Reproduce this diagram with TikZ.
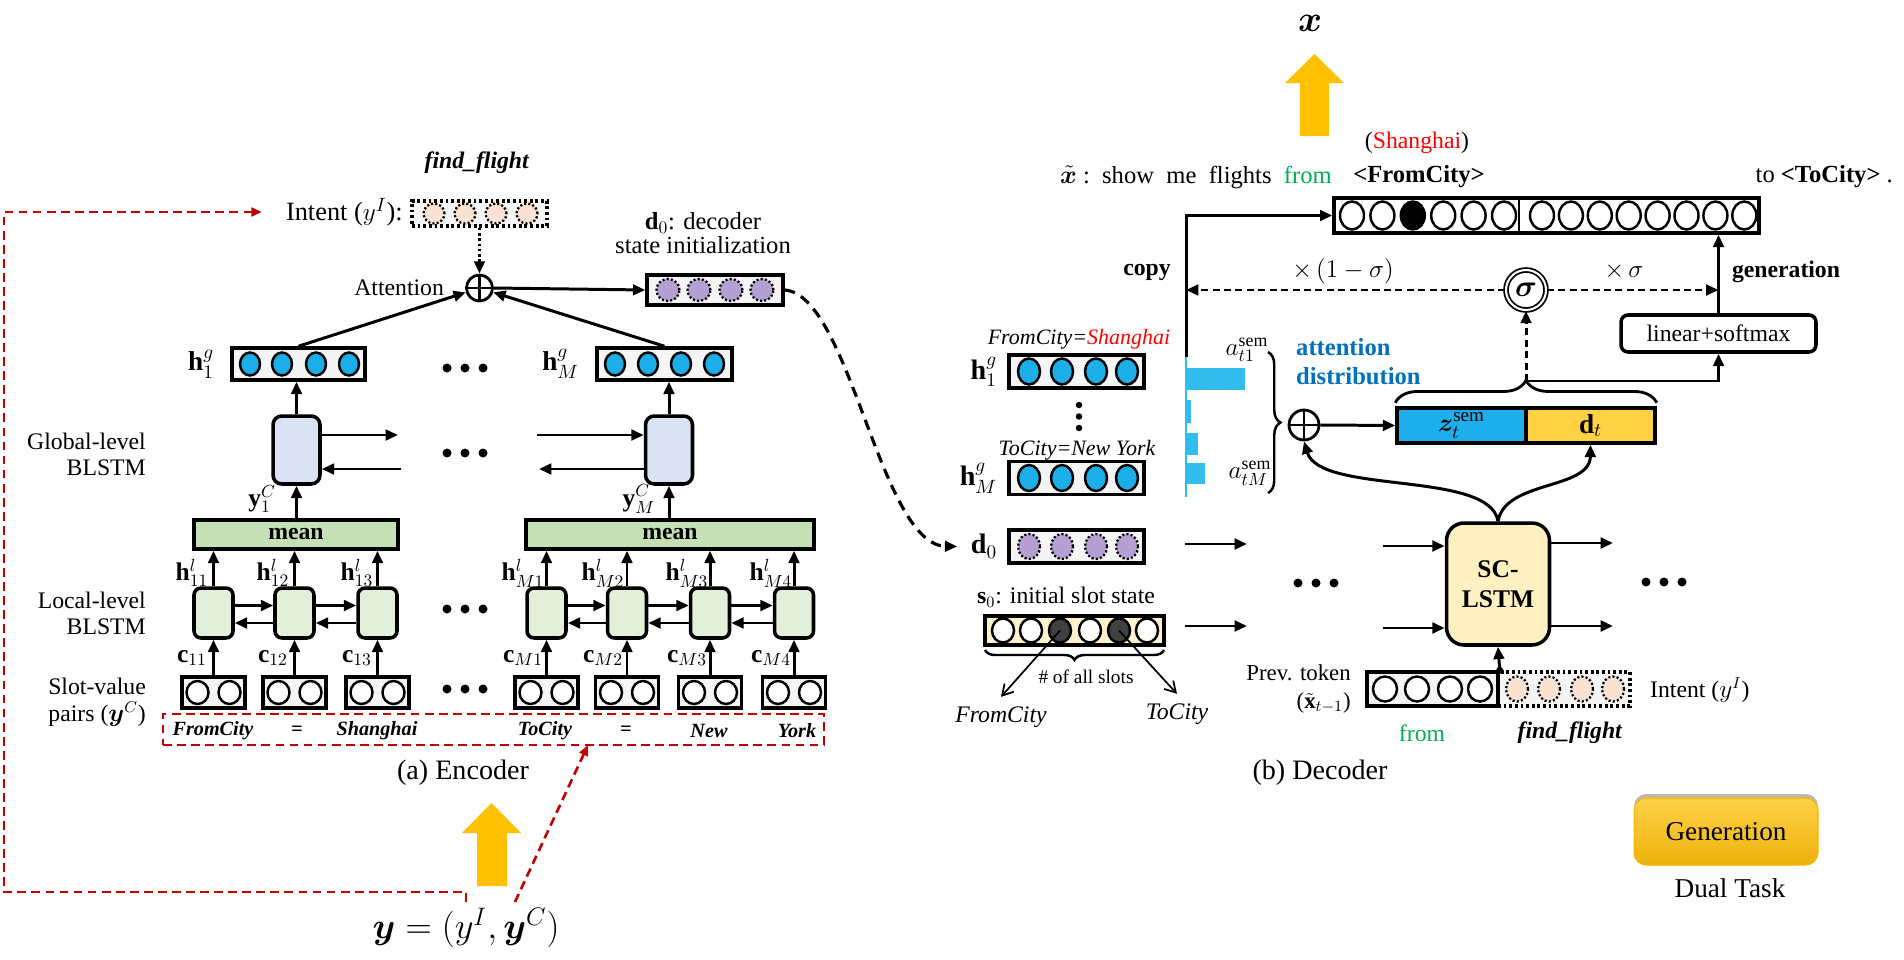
\documentclass[tikz,border=0pt]{standalone}
\usepackage{fontspec}
\setmainfont{Liberation Serif}
\usepackage{amsmath}
\usepackage{bm}
\usetikzlibrary{arrows.meta,decorations.pathreplacing,positioning}

\definecolor{encred}{HTML}{C00000}
\definecolor{gold}{HTML}{FFC000}
\definecolor{ballblue}{HTML}{1BAEE8}
\definecolor{purp}{HTML}{B4A0D2}
\definecolor{peach}{HTML}{FBE3D3}
\definecolor{meangreen}{HTML}{C5E0B4}
\definecolor{cellgreen}{HTML}{E2F0D9}
\definecolor{cellblue}{HTML}{DAE3F3}
\definecolor{slotyellow}{HTML}{FFF2CC}
\definecolor{lstmyellow}{HTML}{FFF0C1}
\definecolor{attblue}{HTML}{0070C0}
\definecolor{barblue}{HTML}{33BDEF}
\definecolor{zblue}{HTML}{1EAEEB}
\definecolor{dgold}{HTML}{FFD243}
\definecolor{fromgreen}{HTML}{00B050}
\definecolor{genhi}{HTML}{FFD149}
\definecolor{genlo}{HTML}{EDB20C}

\begin{document}
\begin{tikzpicture}[x=0.02cm, y=-0.02cm, font=\fontsize{13.5}{15}\selectfont,
    arr/.style={-{Triangle[length=7pt,width=6pt]}, line width=1.7pt},
    dasharr/.style={arr, dash pattern=on 4pt off 2.5pt},
    reddash/.style={encred, line width=1.5pt, dash pattern=on 5pt off 3pt},
    vecbox/.style={draw, line width=2pt, fill=gray!8, inner sep=0pt},
    dotbox/.style={draw, line width=2pt, dash pattern=on 1.6pt off 1.6pt, fill=gray!8, inner sep=0pt},
    gcell/.style={draw, line width=2pt, rounded corners=5pt, fill=cellblue, minimum width=0.94cm, minimum height=1.36cm},
    lcell/.style={draw, line width=2pt, rounded corners=4pt, fill=cellgreen, minimum width=0.78cm, minimum height=1cm},
    meanbox/.style={draw, line width=2pt, fill=meangreen, minimum height=0.58cm, font=\fontsize{13.5}{15}\selectfont\bfseries},
    slotbox/.style={vecbox, minimum width=1.26cm, minimum height=0.62cm},
    oplus/.style={draw, circle, line width=1.6pt, inner sep=0pt, fill=white},
    bigmath/.style={font=\fontsize{15.5}{17}\selectfont},
    ball/.style={draw, line width=1.4pt, fill=ballblue},
    hollow/.style={draw, line width=1.4pt, fill=white},
    peachball/.style={draw, line width=1.3pt, dash pattern=on 1.2pt off 1.2pt, fill=peach},
    purpball/.style={draw, line width=1.3pt, dash pattern=on 1.2pt off 1.2pt, fill=purp},
    slotword/.style={font=\fontsize{11.5}{13}\selectfont\bfseries\itshape}]
\useasboundingbox (0,0) rectangle (1904,960);

\node (ffenc) at (477,163) {\textbf{\textit{find\_flight}}};
\node[dotbox, minimum width=2.7cm, minimum height=0.5cm] (ienc) at (479.5,213.5) {};
\foreach \cx in {434,465,496,527} \draw[peachball] (\cx,213.5) ellipse [x radius=0.21cm, y radius=0.2cm];
\node[anchor=east, font=\fontsize{15}{17}\selectfont] (ilbl) at (409,212) {Intent ($y^I$):};
\node[oplus, minimum size=0.52cm] (eplus) at (479.5,288) {};
\draw[line width=1.6pt] (eplus.north) -- (eplus.south) (eplus.west) -- (eplus.east);
\node[left=0.3cm of eplus] (attlbl) {Attention};
\node[vecbox, minimum width=2.72cm, minimum height=0.6cm] (d0enc) at (715,290) {};
\foreach \cx in {668,699,731,762} \draw[purpball] (\cx,290) ellipse [x radius=0.23cm, y radius=0.22cm];
\node[align=center, font=\fontsize{14}{13.5}\selectfont] (d0lbl) at (703,233) {$\mathbf{d}_0$: decoder\\state initialization};
\draw[arr, dash pattern=on 1.5pt off 1.5pt] (ienc.south) -- (eplus.north);
\draw[arr] (eplus.east) -- (d0enc.west);

\node[vecbox, minimum width=2.66cm, minimum height=0.64cm] (hg1) at (298.5,364) {};
\foreach \cx in {250,282,316,349} \draw[ball] (\cx,364) ellipse [x radius=0.2cm, y radius=0.23cm];
\node[bigmath, left=0.2cm of hg1] (hg1lbl) {$\mathbf{h}_1^g$};
\node[vecbox, minimum width=2.7cm, minimum height=0.64cm] (hgM) at (664.5,364) {};
\foreach \cx in {615,648,681,714} \draw[ball] (\cx,364) ellipse [x radius=0.2cm, y radius=0.23cm];
\node[bigmath, left=0.2cm of hgM] (hgMlbl) {$\mathbf{h}_M^g$};
\draw[arr] (hg1.north) -- (eplus);
\draw[arr] (hgM.north) -- (eplus);

\node[gcell] (g1) at (296.5,450) {};
\node[gcell] (gM) at (669,450) {};
\draw[arr] (g1.north) -- (g1.north |- hg1.south);
\draw[arr] (gM.north) -- (gM.north |- hgM.south);
\coordinate (g1r) at (398,435);
\coordinate (g1l) at (401,469);
\coordinate (gMr) at (537,435);
\coordinate (gMl) at (539,469);
\draw[arr] (g1.east |- g1r) -- (g1r);
\draw[arr] (g1l) -- (g1.east |- g1l);
\draw[arr] (gMr) -- (gM.west |- gMr);
\draw[arr] (gM.west |- gMl) -- (gMl);
\node[align=right, anchor=east, font=\fontsize{13.5}{14.8}\selectfont] (glbl) at (152,454) {Global-level\\BLSTM};

\node[meanbox, minimum width=4.08cm] (mean1) at (296,534.5) {mean};
\node[meanbox, minimum width=5.76cm] (meanM) at (670,534.5) {mean};
\draw[arr] (mean1.north -| g1) -- (g1.south);
\draw[arr] (meanM.north -| gM) -- (gM.south);
\node[font=\fontsize{14.5}{16}\selectfont] (yc1) at (262,499) {$\mathbf{y}_1^C$};
\node[font=\fontsize{14.5}{16}\selectfont] (ycM) at (639,499) {$\mathbf{y}_M^C$};

\foreach \nm/\cx in {l1/213.5, l2/294.5, l3/377.5, m1/546.5, m2/627, m3/710, m4/794} {
  \node[lcell] (\nm) at (\cx,613) {};
  \node[slotbox] (s\nm) at (\cx,692.5) {};
  \draw[hollow] (\cx-16,692.5) ellipse [x radius=0.22cm, y radius=0.23cm];
  \draw[hollow] (\cx+16,692.5) ellipse [x radius=0.22cm, y radius=0.23cm];
  \draw[arr] (s\nm.north) -- (\nm.south);
}
\foreach \nm in {l1,l2,l3} \draw[arr] (\nm.north) -- (\nm.north |- mean1.south);
\foreach \nm in {m1,m2,m3,m4} \draw[arr] (\nm.north) -- (\nm.north |- meanM.south);
\foreach \a/\b in {l1/l2, l2/l3, m1/m2, m2/m3, m3/m4} {
  \draw[arr] ([yshift=0.15cm]\a.east) -- ([yshift=0.15cm]\b.west);
  \draw[arr] ([yshift=-0.2cm]\b.west) -- ([yshift=-0.2cm]\a.east);
}
\foreach \lb/\cx in {11/192, 12/273, 13/357, M1/523, M2/603, M3/687, M4/771} {
  \node[font=\fontsize{14.5}{16}\selectfont] (hl\lb) at (\cx,573) {$\mathbf{h}^l_{\lb}$};
  \node[font=\fontsize{14.5}{16}\selectfont] (c\lb) at (\cx,658) {$\mathbf{c}_{\lb}$};
}
\node[align=right, anchor=east, font=\fontsize{13.5}{14.8}\selectfont] (llbl) at (152,613) {Local-level\\BLSTM};
\node[align=right, anchor=east, font=\fontsize{13.5}{15.4}\selectfont] (svlbl) at (152,702) {Slot-value\\pairs ($\bm{y}^C$)};

\node[reddash, draw, minimum width=13.22cm, minimum height=0.62cm] (redbox) at (493.5,729.5) {};
\foreach \w/\cx [count=\i] in {FromCity/213, =/297, Shanghai/377, ToCity/545, =/626, New/709, York/797}
  \node[slotword] (sw\i) at (\cx,731) {\w};
\node[font=\fontsize{16}{18}\selectfont] (enccap) at (463,773) {(a) Encoder};

\fill[gold] (477,886) -- (477,833) -- (462,833) -- (491.5,803) -- (521,833) -- (507,833) -- (507,886) -- cycle;
\node[font=\fontsize{20}{22}\selectfont] (ylbl) at (466,928) {$\bm{y} = (y^I, \bm{y}^C)$};
\coordinate (rtip) at (588,745);
\draw[reddash, -{Triangle[length=6pt,width=5pt]}] (ylbl.north) |- (4,892) |- ([xshift=-0.36cm]ilbl.west);
\draw[reddash, -{Triangle[length=6pt,width=5pt]}] ([xshift=0.98cm]ylbl.north) -- (rtip);

\foreach \px/\py in {465/368, 465/453, 465/609, 465/689, 1316/583, 1664/582}
  \foreach \dx in {-18,0,18} \fill (\px+\dx,\py) circle (0.09cm);

\fill[gold] (1300,136) -- (1300,83) -- (1285,83) -- (1314.5,54) -- (1344,83) -- (1329,83) -- (1329,136) -- cycle;
\node[font=\fontsize{20}{22}\selectfont] (xtop) at (1310,23) {$\bm{x}$};
\node (shlbl) at (1417,143) {(\textcolor{red}{Shanghai})};
\node[anchor=west, font=\fontsize{14}{16}\selectfont] (xtil) at (1054,177) {$\tilde{\bm{x}}$\ :\ \ show\ \ me\ \ flights\ \ \textcolor{fromgreen}{from}};
\node[font=\fontsize{14}{16}\selectfont\bfseries] (fromcity) at (1419,177) {<FromCity>};
\node[anchor=east, font=\fontsize{14}{16}\selectfont] (tocity) at (1899,177) {to \textbf{<ToCity>} .};

\node[vecbox, fill=white, minimum width=8.5cm, minimum height=0.7cm] (tok) at (1546.5,215.5) {};
\draw[line width=1.5pt] (1519,198) -- (1519,233);
\foreach \i in {0,...,5} \draw[hollow] (1352+30.4*\i,215.5) ellipse [x radius=0.24cm, y radius=0.28cm];
\fill (1412.8,215.5) ellipse [x radius=0.24cm, y radius=0.28cm];
\foreach \i in {0,...,7} \draw[hollow] (1542+28.9*\i,215.5) ellipse [x radius=0.24cm, y radius=0.28cm];

\node[draw, line width=2pt, rounded corners=4pt, fill=white, minimum width=3.9cm, minimum height=0.74cm] (lin) at (1718.5,333.5) {linear+softmax};
\draw[arr] (lin.north) -- (lin.north |- tok.south);
\node[draw, circle, double, line width=1pt, double distance=1.2pt, minimum size=0.8cm, inner sep=0pt, fill=white, font=\fontsize{16}{18}\selectfont] (sig) at (1526,290) {$\bm{\sigma}$};
\coordinate (axtop) at (1186,357);
\draw[arr] (axtop) |- (tok.west);
\draw[dasharr] (sig.west) -- (sig.west -| axtop);
\draw[dasharr] (sig.east) -- (sig.east -| lin.north);
\node (copylbl) at (1147,272) {\textbf{copy}};
\node[font=\fontsize{15}{17}\selectfont] (omsig) at (1343,271) {$\times\,(1-\sigma)$};
\node[font=\fontsize{15}{17}\selectfont] (tsig) at (1624,271) {$\times\,\sigma$};
\node (genlbl) at (1786,272) {\textbf{generation}};

\node[font=\fontsize{12.5}{14}\selectfont\itshape] (fcs) at (1079,339) {FromCity=\textcolor{red}{Shanghai}};
\node[vecbox, minimum width=2.7cm, minimum height=0.66cm] (dhg1) at (1076.5,371.5) {};
\foreach \cx in {1029,1062,1096,1127} \draw[ball] (\cx,371.5) ellipse [x radius=0.22cm, y radius=0.26cm];
\node[font=\fontsize{16}{18}\selectfont, left=0.08cm of dhg1] (dhg1lbl) {$\mathbf{h}_1^g$};
\foreach \vy in {405,416.5,428} \fill (1079,\vy) circle (0.065cm);
\node[font=\fontsize{12.5}{14}\selectfont\itshape] (tcn) at (1077,450) {ToCity=New York};
\node[vecbox, minimum width=2.7cm, minimum height=0.66cm] (dhgM) at (1076.5,478) {};
\foreach \cx in {1029,1062,1096,1127} \draw[ball] (\cx,478) ellipse [x radius=0.22cm, y radius=0.26cm];
\node[font=\fontsize{16}{18}\selectfont, left=0.08cm of dhgM] (dhgMlbl) {$\mathbf{h}_M^g$};

\draw[barblue, line width=1.5pt] (axtop) -- (1186,497);
\fill[barblue] (1186,368) rectangle (1245,390);
\fill[barblue] (1186,400) rectangle (1191,423);
\fill[barblue] (1186,433) rectangle (1198,455);
\fill[barblue] (1186,463) rectangle (1205,484);
\node[font=\fontsize{14.5}{16}\selectfont] (at1) at (1247,350) {$a_{t1}^{\mathrm{sem}}$};
\node[font=\fontsize{14.5}{16}\selectfont] (atM) at (1250,473) {$a_{tM}^{\mathrm{sem}}$};
\node[anchor=west, align=left, text=attblue, font=\fontsize{14}{16.5}\selectfont\bfseries] (attd) at (1290,361.5) {attention\\distribution};
\draw[line width=1.4pt, decorate, decoration={brace, amplitude=0.25cm}] (1268,352) -- (1268,493);

\node[oplus, minimum size=0.6cm] (dplus) at (1304,425) {};
\draw[line width=1.6pt] (dplus.north) -- (dplus.south) (dplus.west) -- (dplus.east);
\node[draw, line width=2pt, fill=zblue, minimum width=2.58cm, minimum height=0.7cm, inner sep=0pt, font=\fontsize{15.5}{17}\selectfont] (zb) at (1461.5,425.5) {$\bm{z}_t^{\mathrm{sem}}$};
\node[draw, line width=2pt, fill=dgold, minimum width=2.58cm, minimum height=0.7cm, inner sep=0pt, font=\fontsize{15.5}{17}\selectfont] (db) at (1590.5,425.5) {$\mathbf{d}_t$};
\draw[arr] (dplus.east) -- (zb.west);
\draw[line width=1.6pt, decorate, decoration={brace, amplitude=0.45cm}] ([yshift=2pt]zb.north west) -- ([yshift=2pt]db.north east);
\coordinate (btip) at (1526,381);
\draw[dasharr] (btip) -- (sig.south);
\draw[arr] (btip) -| (lin.south);

\node[vecbox, minimum width=2.7cm, minimum height=0.66cm] (dd0) at (1076.5,546.5) {};
\foreach \cx in {1029,1062,1096,1127} \draw[purpball] (\cx,546.5) ellipse [x radius=0.22cm, y radius=0.25cm];
\node[font=\fontsize{16}{18}\selectfont, left=0.08cm of dd0] (dd0lbl) {$\mathbf{d}_0$};
\draw[arr, dash pattern=on 6pt off 4pt, line width=1.8pt] (d0enc.east) .. controls (850,295) and (880,545) .. ([xshift=-0.15cm]dd0lbl.west);

\node (s0lbl) at (1066,597) {$\mathbf{s}_0$: initial slot state};
\node[vecbox, fill=slotyellow, minimum width=3.58cm, minimum height=0.58cm] (s0b) at (1074.5,630.5) {};
\foreach \cx in {1003,1031,1090,1147} \draw[hollow] (\cx,630.5) ellipse [x radius=0.22cm, y radius=0.24cm];
\foreach \cx in {1060,1119} \draw[draw, line width=1.4pt, fill=black!75] (\cx,630.5) ellipse [x radius=0.22cm, y radius=0.24cm];
\coordinate (sd1) at (1060,630.5);
\coordinate (sd2) at (1119,630.5);
\draw[line width=1.4pt, decorate, decoration={brace, amplitude=0.2cm}] (1164,650) -- (985,650);
\node[font=\fontsize{11}{13}\selectfont] (allslots) at (1086,677) {\# of all slots};
\node[font=\fontsize{13.5}{15}\selectfont\itshape] (fromlbl) at (1001,717) {FromCity};
\node[font=\fontsize{13.5}{15}\selectfont\itshape] (tolbl) at (1177,714) {ToCity};
\draw[line width=1pt, -{Straight Barb[length=6pt,width=7pt]}] (sd1) -- ([yshift=2pt]fromlbl.north);
\draw[line width=1pt, -{Straight Barb[length=6pt,width=7pt]}] (sd2) -- ([yshift=2pt]tolbl.north);

\node[draw, line width=2pt, rounded corners=10pt, fill=lstmyellow, minimum width=2.06cm, minimum height=2.44cm, align=center, font=\fontsize{14.5}{17}\selectfont\bfseries] (lstm) at (1498,584) {SC-\\LSTM};
\coordinate (r1s) at (1185,544);
\coordinate (r1e) at (1247,544);
\coordinate (r2s) at (1383,546);
\coordinate (r3e) at (1613,543);
\coordinate (q1s) at (1185,626);
\coordinate (q1e) at (1247,626);
\coordinate (q2s) at (1383,628);
\coordinate (q3e) at (1613,626);
\draw[arr] (r1s) -- (r1e);
\draw[arr] (r2s) -- (lstm.west |- r2s);
\draw[arr] (lstm.east |- r3e) -- (r3e);
\draw[arr] (q1s) -- (q1e);
\draw[arr] (q2s) -- (lstm.west |- q2s);
\draw[arr] (lstm.east |- q3e) -- (q3e);
\draw[arr] (lstm.north) .. controls (1490,470) and (1320,495) .. (dplus.south);
\draw[arr] (lstm.north) .. controls (1505,480) and (1590,490) .. (db.south);

\node[dotbox, minimum width=2.64cm, minimum height=0.68cm] (idec) at (1564,689) {};
\foreach \cx in {1517,1549,1582,1613} \draw[peachball] (\cx,689) ellipse [x radius=0.22cm, y radius=0.25cm];
\node[vecbox, minimum width=2.62cm, minimum height=0.68cm] (ptok) at (1432.5,689) {};
\foreach \cx in {1385,1417,1450,1480} \draw[hollow] (\cx,689) ellipse [x radius=0.24cm, y radius=0.25cm];
\fill (ptok.north east) circle (0.07cm);
\draw[arr] (ptok.north east) -- (lstm.south);
\node[align=right, anchor=east, font=\fontsize{13}{16}\selectfont] (ptlbl) at (1357,689) {Prev. token\\($\tilde{\mathbf{x}}_{t-1}$)};
\node[anchor=west] (idlbl) at (1644,690) {Intent ($y^I$)};
\node[text=fromgreen] (fromw) at (1422,733) {from};
\node (ffdec) at (1570,733) {\textbf{\textit{find\_flight}}};
\node[font=\fontsize{16}{18}\selectfont] (deccap) at (1320,773) {(b) Decoder};

\fill[gray!55, rounded corners=7pt] (1634,794) rectangle (1818,850);
\node[draw=gold!80!orange, line width=0.6pt, rounded corners=7pt, top color=genhi, bottom color=genlo, minimum width=3.68cm, minimum height=1.34cm, font=\fontsize{15.5}{17}\selectfont] (genbtn) at (1726,831.5) {Generation};
\node[font=\fontsize{15.5}{17}\selectfont] (dualtask) at (1730,888) {Dual Task};
\end{tikzpicture}
\end{document}
